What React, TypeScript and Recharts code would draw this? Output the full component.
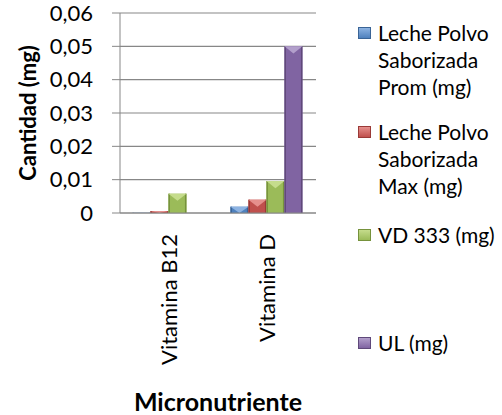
import { BarChart, Bar, XAxis, YAxis, CartesianGrid, Legend } from "recharts";

const categories = ["Vitamina B12", "Vitamina D"];
const promValues = [0.00005, 0.0019];
const maxValues = [0.0006, 0.004];
const vdValues = [0.0058, 0.0096];
const ulValues = [0, 0.05];

const seriesKeys = ["prom", "max", "vd", "ul"];
const seriesNames = [
  "Leche Polvo Saborizada Prom (mg)",
  "Leche Polvo Saborizada Max (mg)",
  "VD 333 (mg)",
  "UL (mg)",
];
const seriesColors = ["#4F81BD", "#C0504D", "#9BBB59", "#8064A2"];
const seriesLight = ["#8DB3E2", "#E6908D", "#C5DC8C", "#B29FCB"];
const seriesDark = ["#3A6496", "#9A3A37", "#76923C", "#5F497A"];

const yTicks = [0, 0.01, 0.02, 0.03, 0.04, 0.05, 0.06];
const yTickLabels = ["0", "0,01", "0,02", "0,03", "0,04", "0,05", "0,06"];

const data = categories.map((name, i) => ({
  name,
  prom: promValues[i],
  max: maxValues[i],
  vd: vdValues[i],
  ul: ulValues[i],
}));

const FONT = "Lato, 'Open Sans', sans-serif";
const legendTops = [19, 118, 221, 329];

const bevelBar = (idx: number) => (props: any) => {
  const { x, y, width, height } = props;
  if (!height || height <= 0) return <g />;
  const depth = Math.min(height, width * 0.4);
  return (
    <g>
      <rect x={x} y={y} width={width} height={height} fill={seriesColors[idx]} />
      <rect x={x} y={y} width={1.5} height={height} fill={seriesDark[idx]} />
      <rect x={x + width - 1.5} y={y} width={1.5} height={height} fill={seriesDark[idx]} />
      <polygon
        points={`${x},${y} ${x + width},${y} ${x + width / 2},${y + depth}`}
        fill={seriesLight[idx]}
      />
    </g>
  );
};

const XTick = ({ x, y, payload }: any) => (
  <text
    x={x}
    y={y}
    transform={`rotate(-90, ${x}, ${y})`}
    textAnchor="end"
    dy="0.35em"
    fontSize={22}
    fontFamily={FONT}
    fill="#000"
  >
    {payload.value}
  </text>
);

const LegendBox = () => (
  <div style={{ position: "relative", width: 147, height: 380, fontFamily: FONT, fontSize: 21 }}>
    {seriesNames.map((n, i) => (
      <div
        key={n}
        style={{ position: "absolute", left: 0, top: legendTops[i], width: 147, lineHeight: "27px", color: "#000" }}
      >
        <span
          style={{
            position: "absolute",
            left: 0,
            top: 8,
            width: 13,
            height: 12,
            background: `linear-gradient(to bottom, ${seriesLight[i]}, ${seriesColors[i]})`,
            border: `1px solid ${seriesDark[i]}`,
            boxSizing: "border-box",
          }}
        />
        <div style={{ marginLeft: 20, width: 124 }}>{n}</div>
      </div>
    ))}
  </div>
);

export default function App() {
  return (
    <div style={{ position: "absolute", left: 0, top: 0, width: 502, height: 415, background: "#fff" }}>
      <BarChart
        width={502}
        height={415}
        data={data}
        margin={{ top: 13, right: 186, left: 0, bottom: 42 }}
        barCategoryGap="12.7%"
        barGap={0}
      >
        <CartesianGrid vertical={false} stroke="#878787" strokeWidth={1.2} />
        <XAxis
          dataKey="name"
          height={160}
          tickLine={false}
          tickSize={0}
          tickMargin={21}
          axisLine={{ stroke: "#878787" }}
          tick={<XTick />}
          interval={0}
          label={{
            content: ({ viewBox }: any) => (
              <text
                x={viewBox.x + viewBox.width / 2}
                y={401}
                textAnchor="middle"
                dominantBaseline="central"
                fontSize={25}
                fontWeight="bold"
                fontFamily={FONT}
                fill="#000"
              >
                Micronutriente
              </text>
            ),
          }}
        />
        <YAxis
          width={120}
          domain={[0, 0.06]}
          ticks={yTicks}
          tickFormatter={(v: number) => yTickLabels[yTicks.indexOf(v)] ?? String(v)}
          tickSize={8}
          tickMargin={19}
          tickLine={{ stroke: "#878787" }}
          axisLine={{ stroke: "#878787" }}
          tick={{ fill: "#000", fontSize: 22, fontFamily: FONT }}
          label={{
            content: ({ viewBox }: any) => (
              <text
                x={27}
                y={viewBox.y + viewBox.height / 2}
                transform={`rotate(-90, 27, ${viewBox.y + viewBox.height / 2})`}
                textAnchor="middle"
                dominantBaseline="central"
                fontSize={22}
                fontWeight="bold"
                fontFamily={FONT}
                fill="#000"
              >
                Cantidad (mg)
              </text>
            ),
          }}
        />
        <Legend
          layout="vertical"
          align="center"
          verticalAlign="middle"
          content={<LegendBox />}
          wrapperStyle={{ left: 358, top: 0, width: 147, height: 380 }}
        />
        {seriesKeys.map((k, i) => (
          <Bar
            key={k}
            dataKey={k}
            name={seriesNames[i]}
            fill={seriesColors[i]}
            shape={bevelBar(i)}
            isAnimationActive={false}
          />
        ))}
      </BarChart>
    </div>
  );
}
